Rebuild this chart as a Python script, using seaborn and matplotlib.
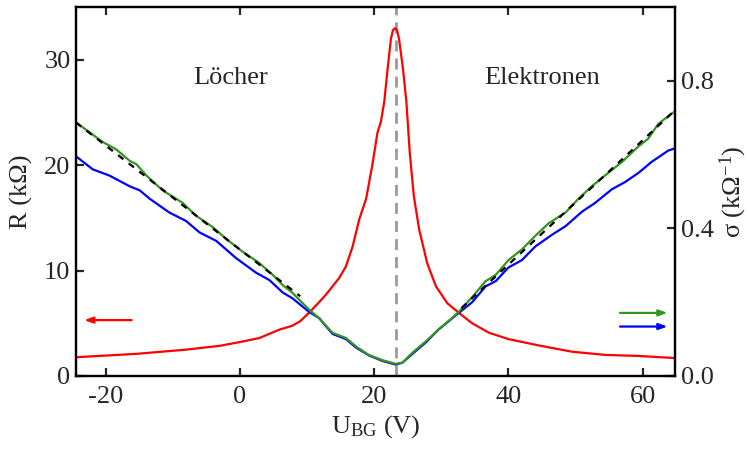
import numpy as np
import pandas as pd
import matplotlib
matplotlib.use("Agg")
import matplotlib.pyplot as plt
import seaborn as sns

# ---- data ----
v_green = [-24.4, -24.3, -20.4, -18.4, -16.4, -15.4, -13.9, -11.5, -8.5, -6.5, -4.0, -2.0, 0.4, 2.9, 4.9, 6.4, 7.8,
           10.3, 11.8, 13.8, 15.8, 17.3, 19.2, 21.2, 23.2, 24.2, 25.7, 27.7, 29.6, 31.6, 32.6, 34.6, 36.6,
           38.1, 40.0, 42.0, 44.0, 46.0, 48.5, 50.4, 52.4, 54.9, 56.9, 59.4, 60.8, 62.3, 64.3, 64.8]
s_green = [0.688, 0.686, 0.634, 0.614, 0.583, 0.574, 0.543, 0.503, 0.469, 0.434, 0.403, 0.371, 0.337, 0.306, 0.274,
           0.246, 0.226, 0.180, 0.157, 0.117, 0.103, 0.080, 0.057, 0.043, 0.033, 0.036, 0.063, 0.094, 0.126,
           0.157, 0.174, 0.214, 0.257, 0.274, 0.314, 0.343, 0.380, 0.414, 0.443, 0.480, 0.514, 0.551, 0.580,
           0.623, 0.643, 0.683, 0.711, 0.717]

v_blue = [-24.4, -24.3, -21.9, -19.4, -16.4, -14.9, -13.4, -10.5, -8.0, -6.0, -3.5, -0.6, 2.4, 4.4, 6.4, 7.8, 10.3,
          11.8, 13.8, 15.8, 17.3, 19.2, 21.2, 23.2, 24.2, 25.7, 27.7, 29.6, 32.6, 34.6, 36.6, 38.1, 40.0, 42.0,
          44.0, 46.5, 48.5, 51.0, 52.9, 55.4, 57.4, 59.4, 61.3, 63.8, 64.8]
s_blue = [0.594, 0.594, 0.560, 0.543, 0.514, 0.503, 0.480, 0.443, 0.420, 0.389, 0.366, 0.320, 0.280, 0.260, 0.226,
          0.211, 0.174, 0.157, 0.114, 0.100, 0.077, 0.056, 0.041, 0.031, 0.036, 0.060, 0.091, 0.126, 0.171,
          0.200, 0.243, 0.257, 0.294, 0.314, 0.351, 0.383, 0.406, 0.446, 0.469, 0.506, 0.526, 0.551, 0.580,
          0.611, 0.617]

v_red = [-24.4, -15.4, -8.0, -3.0, 0.4, 2.9, 5.9, 7.8, 9.0, 10.3, 11.8, 12.8, 13.8, 14.8, 15.8, 16.8, 17.8, 18.8,
         19.7, 20.5, 21.0, 21.5, 22.0, 22.5, 22.8, 23.1, 23.4, 23.7, 24.3, 24.8, 25.3, 25.9, 26.7, 27.9, 29.2,
         30.9, 32.6, 34.6, 37.1, 40.0, 44.5, 49.5, 54.4, 59.4, 64.8]
r_red = [1.78, 2.1, 2.5, 2.86, 3.27, 3.6, 4.4, 4.76, 5.2, 6.0, 7.0, 7.7, 8.5, 9.3, 10.4, 12.3, 14.9, 16.8,
         19.9, 23.1, 24.1, 26.0, 29.1, 32.0, 32.8, 33.0, 32.8, 32.0, 29.1, 26.0, 21.2, 17.1, 13.9, 10.7, 8.5,
         6.9, 6.0, 5.0, 4.1, 3.5, 2.9, 2.3, 2.0, 1.9, 1.7]

fit_left_v = [-24.4, 9.0]
fit_left_s = [0.687, 0.216]
fit_right_v = [33.0, 64.8]
fit_right_s = [0.184, 0.720]

v_dirac = 23.2
x_ticks = [-20, 0, 20, 40, 60]
r_ticks = [0, 10, 20, 30]
s_ticks = [0.0, 0.4, 0.8]

# ---- style ----
sns.set_style("ticks")
plt.rcParams["font.family"] = ["Liberation Serif", "DejaVu Serif"]
plt.rcParams["mathtext.fontset"] = "custom"
plt.rcParams["mathtext.rm"] = "Liberation Serif"
plt.rcParams["mathtext.it"] = "Liberation Serif:italic"

RED = "#ff0000"
GREEN = "#34941e"
BLUE = "#0000ff"
FS = 19

fig, ax = plt.subplots(figsize=(7.48, 4.49), dpi=100)
fig.subplots_adjust(left=0.1016, right=0.9024, top=0.9844, bottom=0.1626)
ax2 = ax.twinx()

df_red = pd.DataFrame({"V": v_red, "R": r_red})
df_green = pd.DataFrame({"V": v_green, "s": s_green})
df_blue = pd.DataFrame({"V": v_blue, "s": s_blue})

ax.axvline(v_dirac, color="#9a9a9a", lw=2.0, ls=(0, (4, 2.5)), zorder=1)
sns.lineplot(data=df_red, x="V", y="R", ax=ax, color=RED, lw=1.6, sort=False, estimator=None)

sns.lineplot(data=df_blue, x="V", y="s", ax=ax2, color=BLUE, lw=1.6, sort=False, estimator=None)
sns.lineplot(data=df_green, x="V", y="s", ax=ax2, color=GREEN, lw=1.6, sort=False, estimator=None)
ax2.plot(fit_left_v, fit_left_s, color="black", lw=1.6, ls=(0, (3, 3)))
ax2.plot(fit_right_v, fit_right_s, color="black", lw=1.6, ls=(0, (3, 3)))

# arrows
ax.annotate("", xy=(-23.6, 5.3), xytext=(-15.7, 5.3),
            arrowprops=dict(arrowstyle="-|>,head_length=0.5,head_width=0.18", color=RED, lw=1.6))
ax2.annotate("", xy=(64.1, 0.171), xytext=(56.2, 0.171),
             arrowprops=dict(arrowstyle="-|>,head_length=0.5,head_width=0.18", color=GREEN, lw=1.6))
ax2.annotate("", xy=(64.1, 0.134), xytext=(56.2, 0.134),
             arrowprops=dict(arrowstyle="-|>,head_length=0.5,head_width=0.18", color=BLUE, lw=1.6))

ax.text(-1.4, 28.3, "Löcher", fontsize=FS, ha="center", va="center")
ax.text(45.0, 28.3, "Elektronen", fontsize=FS, ha="center", va="center")

ax.set_xlim(-24.4, 64.8)
ax.set_ylim(0, 35)
ax2.set_ylim(0, 1.0)
ax.set_xticks(x_ticks)
ax.set_xticklabels([str(t) for t in x_ticks])
ax.set_yticks(r_ticks)
ax2.set_yticks(s_ticks)
ax2.set_yticklabels([f"{t:.1f}" for t in s_ticks])

ax.set_xlabel(r"U$_{\mathrm{BG}}$ (V)", fontsize=FS, labelpad=4)
ax.set_ylabel("R (kΩ)", fontsize=FS, labelpad=8)
ax2.set_ylabel(r"σ (kΩ$^{-1}$)", fontsize=FS, labelpad=3)

for a in (ax, ax2):
    for sp in a.spines.values():
        sp.set_visible(True)
        sp.set_linewidth(1.6)
        sp.set_color("black")
ax.tick_params(axis="x", direction="in", top=True, length=6, width=1.6, labelsize=FS, pad=7)
ax.tick_params(axis="y", direction="in", length=6, width=1.6, labelsize=FS, pad=4)
ax2.tick_params(axis="y", direction="in", length=6, width=1.6, labelsize=FS, pad=4)

fig.savefig("out.png", dpi=100)
